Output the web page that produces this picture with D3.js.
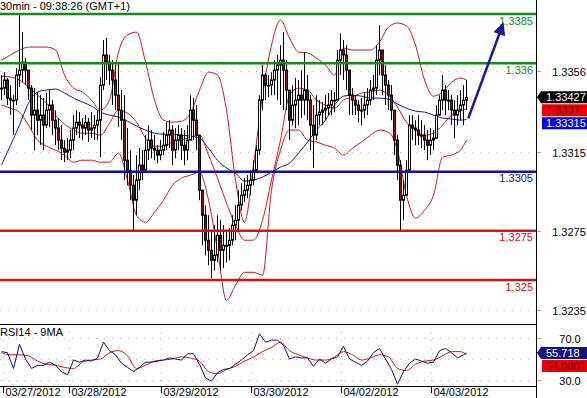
<!DOCTYPE html>
<html>
<head>
<meta charset="utf-8">
<script src="https://cdn.jsdelivr.net/npm/d3@7"></script>
<style>
  html, body { margin: 0; padding: 0; background: #fff; }
  svg { display: block; font-family: "Liberation Sans", Arial, sans-serif; }
</style>
</head>
<body>
<div id="chart"></div>
<script>
// 30 min bars, 03/27/2012 - 04/03/2012
const highs = [
  1.3354,1.33555,1.33525,1.33489,1.33438,1.33576,1.33845,1.33758,1.33626,1.33565,
  1.33489,1.33474,1.33454,1.33438,1.33423,1.33449,1.33464,1.33413,1.33362,1.33322,
  1.33286,1.3321,1.3322,1.33261,1.33337,1.33362,1.33352,1.33322,1.33337,1.33322,
  1.33352,1.33337,1.33362,1.3353,1.33718,1.33728,1.33642,1.33616,1.33591,1.33601,
  1.33464,1.33438,1.33271,1.33159,1.33032,1.33134,1.33169,1.33159,1.33235,1.33286,
  1.33261,1.33235,1.33184,1.3321,1.3325,1.33301,1.33311,1.33286,1.33271,1.33286,
  1.33271,1.33261,1.33286,1.33438,1.33423,1.33388,1.33235,1.3293,1.3288,1.32829,
  1.32753,1.32778,1.32829,1.32803,1.32778,1.32753,1.32763,1.32829,1.3288,1.32956,
  1.32991,1.33017,1.33032,1.33057,1.33108,1.33184,1.33438,1.33591,1.3355,1.3354,
  1.33555,1.33616,1.33642,1.33692,1.33758,1.33616,1.33464,1.33489,1.33525,1.33515,
  1.33565,1.33657,1.3354,1.33438,1.33388,1.33438,1.33413,1.33403,1.33438,1.33449,
  1.33464,1.33454,1.33667,1.33753,1.33718,1.33692,1.33515,1.33474,1.33438,1.33413,
  1.33423,1.33454,1.33474,1.33515,1.3354,1.33692,1.33794,1.33616,1.33591,1.33515,
  1.33489,1.33311,1.33235,1.33108,1.33007,1.33108,1.33337,1.33337,1.33311,1.33337,
  1.33311,1.33286,1.33261,1.33271,1.33261,1.33388,1.33438,1.3354,1.33489,1.33464,
  1.33438,1.33413,1.33438,1.33464,1.33489,1.33515
];
const lows = [
  1.33413,1.33438,1.33388,1.33337,1.33235,1.33388,1.33479,1.33504,1.33489,1.33413,
  1.33261,1.33159,1.33235,1.33184,1.33159,1.33271,1.33276,1.33235,1.33184,1.33159,
  1.33108,1.33098,1.33108,1.33118,1.33159,1.33235,1.3322,1.3321,1.33235,1.332,
  1.3322,1.3321,1.3321,1.33123,1.33464,1.33515,1.33489,1.33388,1.33362,1.33276,
  1.3321,1.33007,1.32981,1.32905,1.32743,1.32829,1.32956,1.33007,1.33083,1.33108,
  1.33118,1.33108,1.33093,1.33108,1.33134,1.33159,1.33169,1.33083,1.33118,1.33159,
  1.33108,1.33083,1.33108,1.33235,1.3321,1.33159,1.32905,1.32676,1.32626,1.32575,
  1.32509,1.32549,1.3259,1.32549,1.3256,1.3259,1.326,1.32676,1.32702,1.32753,
  1.32854,1.32895,1.32915,1.3293,1.32981,1.33068,1.33134,1.33362,1.33413,1.33428,
  1.33438,1.33438,1.33413,1.33388,1.33362,1.33362,1.3321,1.33286,1.33271,1.33286,
  1.33322,1.33337,1.33311,1.33159,1.33068,1.3321,1.33286,1.33286,1.33311,1.33337,
  1.33337,1.33352,1.33464,1.3354,1.33515,1.33464,1.33337,1.33337,1.33337,1.33301,
  1.33286,1.33322,1.33337,1.33388,1.33413,1.33438,1.3354,1.33438,1.33388,1.33362,
  1.33311,1.33134,1.33007,1.32753,1.32803,1.32956,1.33159,1.3321,1.33184,1.33184,
  1.33169,1.33159,1.33108,1.33134,1.33159,1.33235,1.33337,1.33362,1.33337,1.33362,
  1.33286,1.3322,1.33286,1.33311,1.33286,1.33362
];
const closes = [
  1.33474,1.33515,1.33423,1.33413,1.33413,1.3354,1.33565,1.33606,1.33565,1.33474,
  1.33337,1.33362,1.33311,1.33337,1.33286,1.33362,1.33388,1.33311,1.33271,1.3321,
  1.33169,1.33149,1.33159,1.3321,1.33271,1.33301,1.33286,1.33271,1.33301,1.33261,
  1.33271,1.33286,1.33311,1.33489,1.33642,1.33606,1.33565,1.33515,1.33438,1.33362,
  1.33311,1.33108,1.33057,1.32981,1.32905,1.33007,1.33083,1.33057,1.33159,1.3321,
  1.33169,1.33159,1.33134,1.33159,1.33184,1.33235,1.33261,1.33159,1.3321,1.33235,
  1.33184,1.33159,1.3321,1.33362,1.33311,1.33235,1.32956,1.32829,1.32702,1.32651,
  1.326,1.32626,1.32727,1.32651,1.32676,1.32676,1.32702,1.32778,1.32803,1.3288,
  1.3293,1.32956,1.32981,1.33007,1.33057,1.33159,1.33413,1.3354,1.33489,1.33489,
  1.33515,1.33565,1.33591,1.33616,1.33565,1.33464,1.33311,1.33388,1.33413,1.33438,
  1.33413,1.33464,1.33413,1.33286,1.33235,1.33337,1.33352,1.33362,1.33372,1.33388,
  1.33413,1.33413,1.33616,1.33667,1.33642,1.33565,1.33438,1.33413,1.33388,1.33362,
  1.33362,1.33388,1.33413,1.33464,1.33474,1.33616,1.33667,1.3354,1.33489,1.33438,
  1.33362,1.3321,1.33083,1.32905,1.3293,1.33057,1.33286,1.33271,1.33261,1.33235,
  1.33235,1.3321,1.33184,1.3321,1.3322,1.33337,1.33413,1.33464,1.33413,1.33413,
  1.33362,1.33337,1.33362,1.33388,1.33413,1.33427
];

// bollinger bands and moving average, read every 3rd bar
const ovIdx = d3.range(0, 156, 3).concat([155]);
const bbUpper = [
  1.33616,1.33642,1.33667,1.33682,1.33682,1.33682,1.33667,1.3354,1.33474,1.33454,
  1.33413,1.33362,1.33413,1.33657,1.33743,1.33758,1.33606,1.33413,1.33311,1.33301,
  1.33306,1.33347,1.33464,1.33555,1.3354,1.33362,1.33007,1.32793,1.33083,1.33438,
  1.33692,1.33819,1.33728,1.33657,1.33652,1.33626,1.33591,1.3354,1.33677,1.33667,
  1.33667,1.33667,1.33708,1.33784,1.33804,1.33789,1.33692,1.33515,1.33433,1.33454,
  1.33504,1.33525,1.33515
];
const bbMid = [
  1.33535,1.3353,1.33515,1.33479,1.33438,1.33398,1.33337,1.33291,1.33261,1.33245,
  1.33245,1.33235,1.33296,1.33362,1.33347,1.33301,1.3322,1.33179,1.33179,1.332,
  1.3321,1.33225,1.33235,1.33134,1.33017,1.3289,1.32778,1.32702,1.32702,1.32803,
  1.33007,1.3321,1.33438,1.33474,1.33464,1.33413,1.33388,1.33372,1.33413,1.33428,
  1.33449,1.33454,1.33464,1.33438,1.33377,1.33301,1.33261,1.33235,1.33245,1.33286,
  1.33337,1.33357,1.3337
];
const bbLower = [
  1.33388,1.33372,1.33352,1.33286,1.3321,1.33179,1.33159,1.33134,1.33098,1.33108,
  1.33108,1.33098,1.33098,1.33144,1.33007,1.32829,1.32793,1.32844,1.32905,1.32981,
  1.33017,1.33032,1.33047,1.32905,1.32651,1.32397,1.32473,1.32539,1.32539,1.32524,
  1.32956,1.33159,1.33261,1.33261,1.3321,1.332,1.33184,1.33169,1.33134,1.33169,
  1.332,1.33235,1.33261,1.3325,1.33159,1.3293,1.32814,1.32854,1.3293,1.33123,
  1.33134,1.33159,1.3321
];
const maLine = [
  1.33083,1.33184,1.33286,1.33398,1.33454,1.33464,1.33469,1.33449,1.33423,1.33403,
  1.33383,1.33352,1.33337,1.33327,1.33306,1.33281,1.33261,1.33245,1.3324,1.3324,
  1.33235,1.3323,1.3322,1.33169,1.33108,1.33068,1.33042,1.33002,1.33007,1.33022,
  1.33047,1.33073,1.33093,1.33144,1.332,1.33261,1.33311,1.33388,1.33433,1.33438,
  1.33433,1.33423,1.33423,1.33418,1.33393,1.33372,1.33357,1.33352,1.33337,1.33322,
  1.33317,1.33311,1.33315
];

// RSI(14) every 2nd bar, its 9 MA every 3rd bar
const rsiIdx = d3.range(0, 156, 2).concat([155]);
const rsi = [
  57,56,41,64,50,41,44,44,47,44,38,35,49,47,49,48,51,66,58,54,
  46,42,38,42,47,47,48,49,51,50,49,55,55,45,32,29,37,40,41,45,
  49,54,58,74,66,68,68,63,50,52,51,51,43,50,46,50,52,62,50,47,
  44,48,56,60,50,40,26,38,46,50,48,46,47,58,60,56,51,54,55.718
];
const rsiMA = [
  56,54,54,53,48,45,44,42,41,47,49,50,56,58,53,41,44,48,49,50,
  52,51,48,38,36,40,43,48,52,57,61,66,58,54,51,49,49,52,57,54,
  49,51,54,52,41,39,45,48,49,53,57,57,54.0801
];

const levelValues = [1.3385, 1.336, 1.3305, 1.3275, 1.325];
const levelLabels = ['1.3385', '1.336', '1.3305', '1.3275', '1.325'];
const levelColors = ['#178a17', '#178a17', '#10109a', '#dd1111', '#cc1111'];

const priceTicks = [1.3356, 1.3315, 1.3275, 1.3235];
const rsiTicks = [70, 30];
const rsiGrid = [70, 50, 30];

const dateIdx = [0.5, 22.5, 53, 83, 113, 143];
const dateLabels = ['03/27/2012', '03/28/2012', '03/29/2012', '03/30/2012', '04/02/2012', '04/03/2012'];

const lastPrice = 1.33427, lastMid = 1.3337, lastMa = 1.33315;
const lastRsi = 55.718, lastRsiMa = 54.0801;

const W = 587, H = 398;
const plotW = 536, mainBot = 324, rsiBot = 386;

const svg = d3.select('#chart').append('svg')
  .attr('width', W).attr('height', H);
svg.append('rect').attr('width', W).attr('height', H).attr('fill', '#fff');

const x = d3.scaleLinear().domain([-0.5, 155.5]).range([0, 468]);
const y = d3.scaleLinear().domain([1.3385, 1.325]).range([14, 280]);
const yR = d3.scaleLinear().domain([70, 30]).range([338, 380]);

svg.append('clipPath').attr('id', 'clipMain')
  .append('rect').attr('width', plotW).attr('height', mainBot);
svg.append('clipPath').attr('id', 'clipRsi')
  .append('rect').attr('y', mainBot).attr('width', plotW).attr('height', rsiBot - mainBot);

const main = svg.append('g').attr('clip-path', 'url(#clipMain)');
const sub = svg.append('g').attr('clip-path', 'url(#clipRsi)');

// dotted grid
main.selectAll('.grid').data(priceTicks).enter().append('line')
  .attr('x1', 0).attr('x2', plotW)
  .attr('y1', d => Math.round(y(d)) + 0.5).attr('y2', d => Math.round(y(d)) + 0.5)
  .attr('stroke', '#b4b4b4').attr('stroke-dasharray', '1,7');
sub.selectAll('.grid').data(rsiGrid).enter().append('line')
  .attr('x1', 0).attr('x2', plotW)
  .attr('y1', d => Math.round(yR(d)) + 0.5).attr('y2', d => Math.round(yR(d)) + 0.5)
  .attr('stroke', '#b4b4b4').attr('stroke-dasharray', '1,7');
sub.selectAll('.vgrid').data(dateIdx).enter().append('line')
  .attr('x1', d => Math.round(x(d)) + 0.5).attr('x2', d => Math.round(x(d)) + 0.5)
  .attr('y1', mainBot).attr('y2', rsiBot)
  .attr('stroke', '#b4b4b4').attr('stroke-dasharray', '1,7');

// overlays
const ovLine = d3.line()
  .x((d, k) => x(ovIdx[k]))
  .y(d => y(d))
  .curve(d3.curveMonotoneX);

[bbUpper, bbMid, bbLower].forEach(s => {
  main.append('path').datum(s)
    .attr('d', ovLine)
    .attr('fill', 'none').attr('stroke', '#d01818').attr('stroke-width', 1);
});
main.append('path').datum(maLine)
  .attr('d', ovLine)
  .attr('fill', 'none').attr('stroke', '#18189a').attr('stroke-width', 1);

// bars
const bars = main.append('g');
closes.forEach((c, i) => {
  const o = i > 0 ? closes[i - 1] : c;
  const cx = x(i);
  bars.append('line')
    .attr('x1', cx).attr('x2', cx)
    .attr('y1', y(highs[i])).attr('y2', y(lows[i]))
    .attr('stroke', '#000').attr('stroke-width', 1);
  const top = Math.min(y(o), y(c)), bot = Math.max(y(o), y(c));
  bars.append('rect')
    .attr('x', cx - 1).attr('width', 2)
    .attr('y', top).attr('height', Math.max(1, bot - top))
    .attr('fill', c >= o ? '#fff' : '#9a1010')
    .attr('stroke', '#000').attr('stroke-width', 1);
});

// support / resistance levels
levelValues.forEach((v, k) => {
  main.append('line')
    .attr('x1', 0).attr('x2', plotW)
    .attr('y1', y(v)).attr('y2', y(v))
    .attr('stroke', levelColors[k]).attr('stroke-width', 2.5);
  main.append('text')
    .attr('x', 533).attr('y', y(v) + 10.5)
    .attr('text-anchor', 'end')
    .attr('font-size', 11)
    .attr('fill', levelColors[k])
    .text(levelLabels[k]);
});

// arrow
svg.append('defs').append('marker')
  .attr('id', 'head').attr('viewBox', '0 0 10 10')
  .attr('refX', 2).attr('refY', 5)
  .attr('markerWidth', 6).attr('markerHeight', 5)
  .attr('orient', 'auto')
  .append('path').attr('d', 'M0,0L10,5L0,10Z').attr('fill', '#1a1a8c');
svg.append('line')
  .attr('x1', x(155.6)).attr('y1', y(1.3332))
  .attr('x2', x(166.2)).attr('y2', y(1.3376))
  .attr('stroke', '#1a1a8c').attr('stroke-width', 2.5)
  .attr('marker-end', 'url(#head)');

// RSI panel
const rsiLine = d3.line().x((d, k) => x(rsiIdx[k])).y(d => yR(d));
const rsiMaLine = d3.line().x((d, k) => x(ovIdx[k])).y(d => yR(d)).curve(d3.curveMonotoneX);
sub.append('path').datum(rsiMA).attr('d', rsiMaLine)
  .attr('fill', 'none').attr('stroke', '#d01818').attr('stroke-width', 1);
sub.append('path').datum(rsi).attr('d', rsiLine)
  .attr('fill', 'none').attr('stroke', '#10106e').attr('stroke-width', 1);

// frame
svg.append('line').attr('x1', plotW + 0.5).attr('x2', plotW + 0.5)
  .attr('y1', 0).attr('y2', H).attr('stroke', '#000');
[mainBot, rsiBot].forEach(v => {
  svg.append('line').attr('x1', 0).attr('x2', plotW + 1)
    .attr('y1', v + 0.5).attr('y2', v + 0.5).attr('stroke', '#000');
});

// right axis labels
priceTicks.forEach(v => {
  const ty = Math.round(y(v)) + 0.5;
  svg.append('line').attr('x1', plotW + 1).attr('x2', plotW + 5)
    .attr('y1', ty).attr('y2', ty).attr('stroke', '#aaa');
  svg.append('text').attr('x', 569).attr('y', ty + 4)
    .attr('text-anchor', 'middle').attr('font-size', 11).attr('fill', '#000')
    .text(v.toFixed(4));
});
rsiTicks.forEach(v => {
  const ty = Math.round(yR(v)) + 0.5;
  svg.append('line').attr('x1', plotW + 1).attr('x2', plotW + 5)
    .attr('y1', ty).attr('y2', ty).attr('stroke', '#aaa');
  svg.append('text').attr('x', 570).attr('y', ty + 4)
    .attr('text-anchor', 'middle').attr('font-size', 11).attr('fill', '#000')
    .text(v.toFixed(1));
});

// value tags
function tags(items) {
  let prevBot = -Infinity;
  items.forEach(t => {
    const h = 12;
    const cy = Math.max(t.y, prevBot + 1 + h / 2);
    prevBot = cy + h / 2;
    const x0 = t.pointer ? 541 : 542;
    const p = t.pointer
      ? `M${plotW + 1},${cy}L${x0},${cy - h / 2}L${W},${cy - h / 2}L${W},${cy + h / 2}L${x0},${cy + h / 2}Z`
      : `M${x0},${cy - h / 2}L${W},${cy - h / 2}L${W},${cy + h / 2}L${x0},${cy + h / 2}Z`;
    svg.append('path').attr('d', p).attr('fill', t.bg);
    svg.append('text').attr('x', 546).attr('y', cy + 4)
      .attr('font-size', 11).attr('fill', t.fg).text(t.label);
  });
}
tags([
  { y: y(lastPrice), label: '1.33427', bg: '#000', fg: '#fff', pointer: true },
  { y: y(lastMid), label: '1.3337', bg: '#ee0000', fg: '#6a0000' },
  { y: y(lastMa), label: '1.33315', bg: '#0000ee', fg: '#fff' }
]);
tags([
  { y: yR(lastRsi), label: '55.718', bg: '#14147a', fg: '#fff', pointer: true },
  { y: yR(lastRsiMa), label: '54.0801', bg: '#ee0000', fg: '#6a0000' }
]);

// date axis
dateIdx.forEach((d, k) => {
  const tx = Math.round(x(d)) + 0.5;
  svg.append('line').attr('x1', tx).attr('x2', tx)
    .attr('y1', rsiBot + 1).attr('y2', rsiBot + 7).attr('stroke', '#000');
  svg.append('text').attr('x', tx + 2).attr('y', 396)
    .attr('font-size', 11).attr('fill', '#000').text(dateLabels[k]);
});

// titles
svg.append('text').attr('x', 0).attr('y', 10)
  .attr('font-size', 11).attr('fill', '#000').text('30min - 09:38:26 (GMT+1)');
svg.append('text').attr('x', 0).attr('y', 336)
  .attr('font-size', 11).attr('fill', '#000').text('RSI14 - 9MA');
</script>
</body>
</html>
